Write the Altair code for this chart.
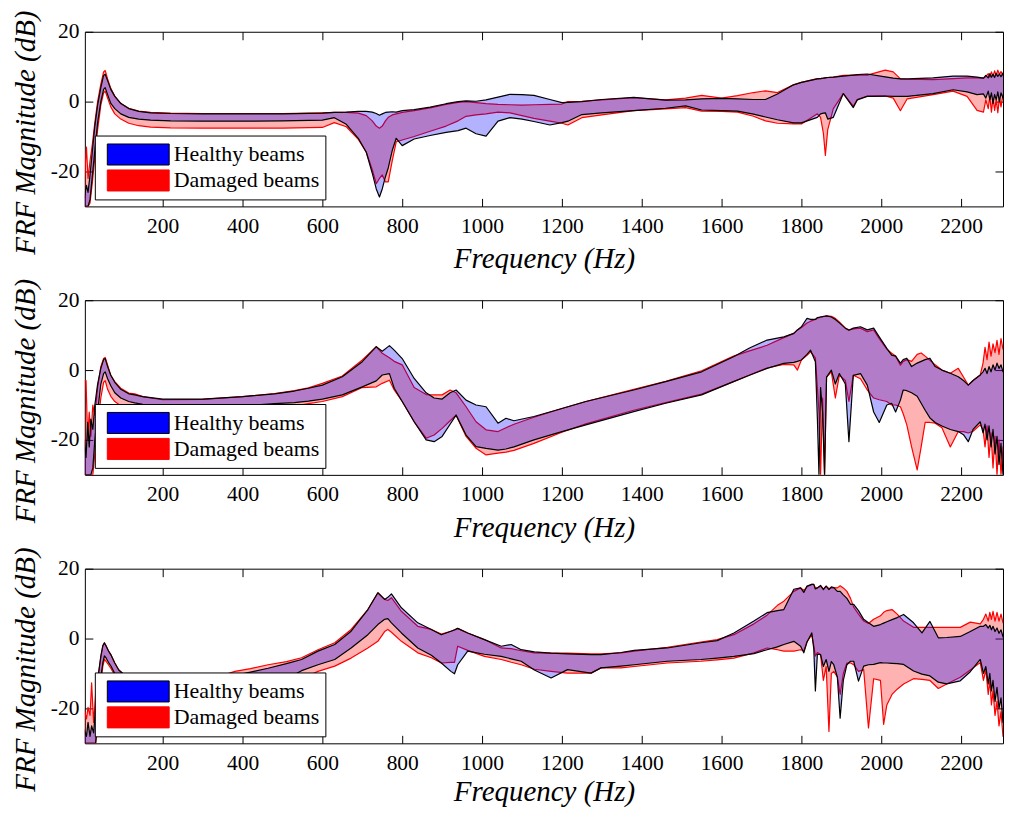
import altair as alt
import pandas as pd

FONT = "Liberation Serif"
GROUPS = ["Healthy beams", "Damaged beams"]
FILL_COLORS = ["#0000ff", "#ff0000"]
EDGE_COLORS = ["#000000", "#ff0000"]
X_TICKS = [200, 400, 600, 800, 1000, 1200, 1400, 1600, 1800, 2000, 2200]
Y_TICKS = [-20, 0, 20]
X_DOMAIN = [5, 2305]
Y_DOMAIN = [-30, 20]
X_TITLE = "Frequency (Hz)"
Y_TITLE = "FRF Magnitude (dB)"

# ---------------- panel 1 ----------------
F1 = [3, 9, 13, 18, 24, 30, 37, 45, 52, 56,
      62, 70, 80, 95, 115, 140, 170, 220, 300, 400,
      500, 600, 630, 660, 690, 710, 725, 735, 743, 750,
      758, 765, 775, 785, 800, 830, 870, 910, 940, 960,
      985, 1010, 1040, 1070, 1100, 1130, 1170, 1200, 1215, 1250,
      1300, 1380, 1460, 1510, 1550, 1600, 1640, 1680, 1710, 1740,
      1780, 1800, 1840, 1848, 1855, 1860, 1866, 1880, 1905, 1930,
      1940, 1965, 2010, 2030, 2048, 2065, 2130, 2180, 2215, 2240,
      2256, 2262, 2268, 2272, 2276, 2280, 2284, 2288, 2292, 2296,
      2300, 2305, 2310, 2315, 2320, 2325, 2330]
H1_UP = [-28, -24, -26, -21, -14, -7, -1, 4, 7.5, 7.8,
         6, 3.5, 1.5, -0.5, -2, -2.8, -3.2, -3.4, -3.5, -3.5,
         -3.5, -3.3, -3.1, -3.0, -2.8, -2.8, -3.0, -3.4, -3.9, -3.5,
         -3.1, -3.0, -2.9, -3.0, -2.6, -2.3, -1.6, -0.6, 0, 0.2,
         0.1, 0.5, 1.3, 2.1, 2.0, 1.8, 0.6, -0.3, -0.2, 0,
         0.6, 1.2, 0.4, 0.5, 0.8, 0.9, 0.8, 0.6, 0.6, 2.2,
         4.8, 5.5, 6.5, 6.6, 6.7, 6.8, 6.9, 7.0, 7.3, 7.6,
         7.7, 7.9, 7.1, 6.7, 6.5, 6.5, 6.8, 7.3, 7.3, 7.0,
         6.7, 7.5, 6.8, 8.0, 7.0, 7.8, 6.9, 8.1, 7.2, 7.9,
         7.1, 8.2, 7.4, 8.0, 7.3, 8.3, 7.6]
H1_LO = [-30, -30, -30, -28, -21, -14, -6, 0, 3.5, 4,
         2, -0.5, -2, -3.5, -4.5, -5, -5.3, -5.5, -5.6, -5.6,
         -5.5, -5.3, -4.6, -6.5, -10.5, -14.5, -20.5, -25, -27.3, -25,
         -21.5, -19, -14, -10.5, -12.6, -10.7, -9.7, -8.8, -8.3, -7.6,
         -9.2, -9.9, -5.6, -4.6, -5.0, -5.7, -6.7, -6.0, -5.6, -3.7,
         -3.2, -2.6, -1.9, -1.2, -2.4, -2.6, -2.7, -3.6, -4.4, -5.2,
         -6.1, -6.1, -4.5, -3.5, -3.3, -3.2, -5.0, -4.5, 2.3, -1.7,
         0.5, 1.5, 1.6, 1.5, 1.5, 1.5, 2.3, 3.4, 2.8, 2.0,
         2.2, 1.0, 3.0, 0.5, 2.5, -0.5, 2.0, 0.5, 2.8, 0.0,
         2.5, 1.0, 3.0, 0.0, 2.5, -0.5, 1.0]
D1_UP = [-24, -13, -22, -17, -12, -6, 0, 5, 8.5, 8.9,
         6.5, 3.8, 1.6, -0.6, -1.9, -2.7, -3.1, -3.3, -3.4, -3.4,
         -3.4, -3.2, -3.1, -3.1, -3.3, -4.0, -5.5, -7.0, -7.6, -7.0,
         -5.5, -4.5, -3.8, -3.5, -3.1, -2.6, -1.8, -0.8, -0.2, 0,
         -0.3, -0.6, -0.8, -0.9, -1.0, -0.9, -0.8, -0.7, 0, 0.1,
         0.5, 1.1, 0.5, 1.0, 1.8, 1.0, 1.7, 2.6, 3.1, 2.6,
         4.8, 5.5, 6.6, 6.6, 6.7, 6.8, 6.9, 7.0, 7.5, 7.6,
         7.6, 7.6, 9.0, 8.5, 6.5, 6.4, 6.3, 6.6, 6.8, 6.8,
         6.7, 7.2, 8.0, 7.0, 8.5, 7.3, 8.8, 7.5, 9.0, 7.8,
         8.6, 7.4, 9.2, 8.0, 9.3, 8.2, 9.0]
D1_LO = [-30, -30, -30, -29, -23, -16, -8, -1, 2.5, 3,
         1, -1.5, -3.5, -5, -6.2, -6.9, -7.3, -7.5, -7.6, -7.6,
         -7.6, -7.4, -6.0, -7.2, -10.8, -14.5, -19.5, -23.5, -22, -21,
         -23, -23, -17, -11.5, -11.0, -10.0, -8.5, -7.0, -5.5, -4.2,
         -3.8, -3.5, -3.0, -3.2, -4.0, -4.8, -5.6, -6.2, -6.7, -4.6,
         -3.8, -2.6, -2.1, -1.7, -2.7, -2.8, -3.0, -4.2, -5.5, -6.2,
         -6.4, -6.4, -3.5, -4.5, -9, -15.4, -8, -2, 2.3, -1.3,
         0.6, 1.6, 1.6, 1.0, -2.6, 0.8, 2.0, 3.0, 1.5, -2.5,
         -3.0, 0.5, -2.0, 1.5, -3.0, 1.0, -2.5, 0.5, -3.2, 1.0,
         -1.5, 2.0, -1.0, 1.5, -0.5, 1.0, 0.0]

# ---------------- panel 2 ----------------
F2 = [3, 8, 12, 16, 20, 25, 30, 37, 45, 52,
      56, 62, 70, 80, 95, 115, 130, 150, 200, 300,
      400, 480, 530, 565, 600, 650, 700, 735, 750, 768,
      780, 800, 830, 860, 880, 900, 920, 935, 960, 985,
      1010, 1040, 1060, 1080, 1130, 1200, 1260, 1380, 1460, 1550,
      1630, 1670, 1714, 1756, 1781, 1790, 1800, 1814, 1823, 1835,
      1840, 1844, 1848, 1853, 1858, 1863, 1875, 1885, 1895, 1910,
      1919, 1930, 1948, 1965, 1981, 1995, 2014, 2026, 2036, 2048,
      2055, 2064, 2076, 2090, 2100, 2110, 2122, 2135, 2152, 2173,
      2193, 2206, 2218, 2230, 2248, 2255, 2260, 2265, 2270, 2275,
      2280, 2285, 2290, 2295, 2300, 2305, 2310, 2315, 2320, 2325,
      2330]
H2_UP = [-20, -25, -15, -22, -14, -17, -10, -4, 0.5, 3,
         3.3, 1, -1.5, -3.5, -5.5, -6.8, -7.1, -7.6, -8.3, -8.3,
         -7.6, -6.8, -6.0, -5.2, -4.3, -1.9, 2.4, 6.7, 5.4, 7.0,
         5.7, 3.3, -2.4, -6.5, -8.0, -8.3, -6.5, -5.7, -8.6, -10.0,
         -10.5, -15.2, -13.8, -14.5, -13.3, -11.0, -9.0, -5.7, -3.3, -0.5,
         3.8, 6.3, 8.6, 9.5, 10.5, 11.5, 12.4, 14.8, 14.5, 14.5,
         15, 15.1, 15.2, 15.3, 15.4, 15.5, 15.2, 14.5, 13.5, 12.0,
         11.4, 12.0, 12.4, 11.5, 12.0, 9.5, 6.2, 4.3, 4.0, 2.0,
         3.0, 3.4, 1.0, 2.0, 2.5, 3.0, 3.4, 1.0, 0.0, -0.9,
         -1.9, -3.0, -4.3, -3.0, -1.4, -0.5, 0.5, -1.0, 1.0, -0.5,
         1.5, 0.0, 2.0, 0.5, 1.5, -0.5, 1.0, -1.0, 0.5, -1.5,
         -0.5]
H2_LO = [-30, -30, -30, -30, -30, -28, -20, -12, -4, -1,
         -0.5, -2.5, -4.5, -6.5, -8, -9, -9.4, -9.8, -10.4, -10.7,
         -10.3, -9.6, -9.3, -8.9, -8.3, -7.1, -4.8, -3.1, -1.4, -1.0,
         -5.2, -9.0, -14.8, -20.0, -20.5, -19.0, -15.5, -12.9, -18.6, -21.9,
         -22.4, -22.9, -22.6, -22.0, -20.0, -17.6, -15.7, -11.9, -9.5, -7.1,
         -3.3, -1.5, 0.5, 1.9, 2.2, 2.5, 2.9, 4.5, 5.7, 2.4,
         -13.8, -30, -5, -12, -30, -2, 0, -4, -1, -4,
         -20.5, -1.5, -1, -4.3, -12, -15, -10, -9.5, -12, -8.6,
         -5.7, -5.9, -6.5, -7.5, -9.5, -11.5, -13.7, -15.0, -16.0, -17.0,
         -17.6, -18.5, -20.5, -17.0, -14.8, -18, -15.5, -20, -16, -22,
         -17, -24, -19, -27, -21, -30, -23, -30, -25, -30,
         -26]
D2_UP = [-3, -3, -20, -12, -19, -10, -13, -5, 1, 3.3,
         3.6, 1.5, -1.5, -3.3, -5.2, -6.6, -6.8, -7.6, -8.5, -8.4,
         -7.6, -6.7, -5.9, -5.1, -3.8, -1.7, 2.9, 6.7, 4.8, 3.5,
         2.5, 1.5, -5.0, -7.0, -7.1, -7.1, -5.7, -6.5, -10.5, -14.8,
         -17.1, -17.6, -16.5, -15.5, -13.5, -11.0, -9.0, -5.5, -3.2, -0.2,
         4.0, 5.5, 7.1, 9.3, 10.5, 11.5, 12.2, 13.5, 14, 14.5,
         15, 15, 15.2, 15.3, 15.4, 15.5, 15.4, 14.8, 13.8, 12.0,
         11.5, 11.8, 12.0, 11.0, 11.5, 9.0, 6.0, 4.8, 4.0, 1.4,
         2.5, 3.0, 2.5, 4.5, 4.9, 4.0, 2.8, 1.5, 0.0, -0.9,
         0.5, -2.0, -4.3, -3.0, -1.4, 2.0, 6.5, 3.0, 8.0, 4.0,
         7.5, 5.0, 8.5, 4.5, 9.0, 6.0, 8.0, 5.5, 9.0, 7.0,
         9.5]
D2_LO = [-30, -30, -30, -30, -30, -30, -24, -16, -8, -3.5,
         -3, -5.5, -7.5, -9, -10.2, -11, -11.3, -11.6, -12, -12.2,
         -11.8, -11, -10.3, -9.6, -9.0, -7.6, -5.0, -4.8, -3.8, -2.9,
         -5.7, -9.0, -14.8, -19.5, -18.6, -16.7, -14.5, -12.9, -19.0, -22.4,
         -24.3, -23.8, -23.5, -23.0, -21.0, -17.8, -15.4, -11.5, -9.3, -6.9,
         -3.3, -1.4, 0.6, 1.6, 1.5, 0, 2.9, 4.2, 5.2, 3.5,
         -5, -12, -30, -8, -30, -2, -0.5, -8, -1.5, -3,
         -9, -1.5, -2.5, -5.7, -8, -8.5, -9, -10, -10, -10.5,
         -12.5, -15.7, -22, -28.6, -22, -15.0, -15.0, -15.2, -16.5, -22.0,
         -17.6, -17.6, -18.0, -17.5, -15.7, -17, -22, -16, -25, -18,
         -28, -19, -30, -20, -30, -22, -30, -21, -30, -24,
         -30]

# ---------------- panel 3 ----------------
F3 = [3, 9, 13, 18, 22, 27, 32, 38, 45, 50,
      54, 58, 64, 70, 80, 90, 110, 150, 200, 250,
      300, 350, 381, 420, 464, 510, 548, 589, 631, 672,
      714, 739, 756, 764, 773, 798, 839, 873, 898, 922,
      931, 939, 964, 1006, 1048, 1073, 1098, 1131, 1173, 1214,
      1273, 1298, 1348, 1381, 1464, 1548, 1589, 1631, 1681, 1714,
      1740, 1756, 1781, 1798, 1806, 1814, 1826, 1831, 1835, 1840,
      1848, 1855, 1862, 1869, 1875, 1881, 1890, 1897, 1905, 1914,
      1923, 1931, 1943, 1956, 1968, 1981, 1998, 2006, 2014, 2027,
      2040, 2056, 2081, 2102, 2122, 2143, 2164, 2198, 2223, 2248,
      2256, 2262, 2268, 2272, 2276, 2280, 2285, 2290, 2295, 2300,
      2305, 2310, 2315, 2320, 2325, 2330]
H3_UP = [-26, -28, -24, -28, -25, -27, -20, -11, -5, -2,
         -1.2, -2, -3.5, -4.6, -7, -9, -11, -13, -14, -14,
         -13, -11.5, -10.5, -9.6, -8.5, -7.2, -6.0, -3.6, -1.7, 2.1,
         8.3, 13.1, 11.2, 11.8, 12.8, 8.8, 4.5, 2.6, 1.1, 2.1,
         2.5, 2.9, 1.6, -0.3, -2.2, -1.7, -3.2, -3.8, -4.2, -4.4,
         -4.6, -4.6, -4.0, -3.4, -2.7, -1.2, -0.6, 1.6, 5.0, 7.4,
         8.0, 8.3, 14.1, 14.5, 13.2, 15.0, 15.5, 15.5, 14.2, 14.5,
         15.2, 14.0, 15.0, 14.0, 14.8, 14.6, 13.5, 13.5, 12.5, 11.5,
         9.8, 9.8, 8.0, 5.5, 4.5, 3.5, 4.0, 4.4, 4.8, 5.4,
         6.0, 6.9, 4.5, 1.6, 4.9, 0.2, 0.3, 0.6, 2.0, 3.5,
         3.5, 4.0, 3.0, 3.8, 2.5, 3.5, 2.0, 3.0, 1.5, 2.5,
         0.5, 1.5, -0.5, 0.5, -1.5, -2.0]
H3_LO = [-30, -30, -30, -30, -30, -30, -30, -22, -11, -7,
         -5, -5.5, -6.8, -7.8, -10, -12, -14, -17, -19, -19.5,
         -19, -18, -17, -16, -14, -11.5, -9.2, -7.5, -6.0, -2.7,
         1.1, 4.0, 5.5, 5.7, 4.5, 1.6, -2.7, -4.8, -7.0, -9.4,
         -10.1, -7.5, -3.6, -4.5, -5.1, -5.8, -6.5, -9.0, -11.3, -8.9,
         -9.9, -8.4, -7.9, -7.5, -6.5, -6.0, -5.6, -5.1, -4.3, -3.2,
         -2.4, -1.7, -0.8, -2.2, -4.1, -1.0, 1.6, -3, -15, -4.5,
         -4.6, -8, -6, -9.4, -6.6, -7.5, -11, -22.8, -12, -7.5,
         -6.5, -6.5, -12.2, -7.9, -7.5, -7.4, -6.9, -7.0, -7.0, -7.1,
         -7.2, -7.4, -9.3, -10.2, -10.7, -12.5, -13, -12.1, -9.5, -6.0,
         -10, -8, -13, -10, -15, -12, -18, -14, -20, -17,
         -24, -20, -28, -30, -30, -30]
D3_UP = [-20, -23, -19.7, -22, -12.7, -24, -16, -11, -5.5, -2.2,
         -1.3, -2.2, -3.5, -4.6, -7, -9, -11, -13, -14, -14,
         -12.5, -10.5, -9.4, -8.6, -7.5, -6.6, -5.5, -3.2, -1.2, 2.6,
         8.3, 13.1, 11.2, 10.9, 11.7, 7.8, 3.5, 2.6, 1.3, 2.1,
         2.4, 2.9, 1.6, -0.3, -2.7, -2.9, -3.5, -4.1, -4.2, -4.2,
         -4.4, -4.4, -4.1, -3.6, -2.5, -1.0, -0.3, 1.1, 4.2, 6.7,
         9.5, 10.7, 13.5, 14.5, 13.8, 14.8, 15.5, 15.5, 14.5, 14.5,
         15.0, 14.2, 15.0, 14.3, 14.5, 14.6, 14.5, 15.1, 14.5, 13.5,
         11.5, 9.0, 7.0, 5.0, 4.3, 5.5, 6.5, 7.5, 8.0, 8.3,
         7.0, 5.0, 3.2, 3.2, 3.2, 3.2, 3.2, 3.2, 4.7, 4.2,
         5.5, 7.0, 5.0, 7.5, 5.5, 7.8, 5.0, 7.5, 5.0, 7.0,
         4.5, 6.5, 4.0, 6.0, 3.5, 5.0]
D3_LO = [-30, -30, -30, -30, -30, -30, -30, -24, -13, -8,
         -6, -6.5, -7.5, -8.5, -10.5, -12.5, -15, -18, -20, -20,
         -19.5, -18.5, -17.5, -16.5, -15, -13, -11.5, -9.4, -7.9, -5.6,
         -2.7, -0.8, 2.0, 2.6, 1.8, -0.8, -4.1, -5.5, -7.0, -6.8,
         -6.8, -2.2, -3.4, -5.1, -6.0, -6.8, -7.5, -8.8, -9.4, -9.9,
         -9.9, -8.4, -8.4, -8.0, -7.0, -6.5, -6.1, -5.6, -4.1, -2.7,
         -3.2, -3.6, -3.6, -3.2, -3.5, -1.0, 1.1, -2, -5, -4.0,
         -4.6, -12, -8, -26.6, -10, -9.4, -11, -16, -10, -7.0,
         -7.0, -7.5, -9.4, -8.9, -25.6, -11.5, -12, -24.6, -19, -16,
         -14.5, -13, -11.5, -11.7, -12, -14.3, -13, -11.1, -9.0, -6.9,
         -12, -9, -16, -12, -19, -15, -22, -18, -25, -21,
         -28, -24, -30, -27, -30, -30]


def band(freq, up, lo, group):
    return pd.DataFrame({"freq": freq, "up": up, "lo": lo, "group": group})


def panel(freq, h_up, h_lo, d_up, d_lo, label_pad=9, title_pad=8):
    x_scale = alt.Scale(domain=X_DOMAIN, nice=False, zero=False)
    y_scale = alt.Scale(domain=Y_DOMAIN, nice=False, zero=False)
    legend = alt.Legend(
        title=None, orient="none", legendX=10, legendY=104, direction="vertical",
        fillColor="white", strokeColor="black", padding=6, cornerRadius=0,
        symbolType="M-1,-0.34H1V0.34H-1Z", symbolSize=3844, symbolStrokeWidth=1,
        symbolOpacity=1, symbolOffset=6, labelOffset=4, clipHeight=26, rowPadding=0,
        labelFont=FONT, labelFontSize=22, labelColor="black", labelLimit=400,
    )
    fill = alt.Fill("group:N", scale=alt.Scale(domain=GROUPS, range=FILL_COLORS), legend=legend)
    stroke = alt.Stroke("group:N", scale=alt.Scale(domain=GROUPS, range=EDGE_COLORS), legend=legend)
    mark = dict(clip=True, strokeWidth=1.2, strokeJoin="round", interpolate="linear")

    damaged = alt.Chart(band(freq, d_up, d_lo, GROUPS[1])).mark_area(**mark).encode(
        x=alt.X("freq:Q", scale=x_scale,
                axis=alt.Axis(orient="bottom", values=X_TICKS, title=X_TITLE, format="d",
                              offset=-8, tickSize=8, labelPadding=label_pad,
                              titlePadding=title_pad,
                              labelFlush=False, labelOverlap=False)),
        y=alt.Y("up:Q", scale=y_scale,
                axis=alt.Axis(orient="left", values=Y_TICKS, title=Y_TITLE,
                              labelExpr="'' + datum.value",
                              offset=-8, tickSize=8, labelPadding=6, titlePadding=10,
                              titleY=100.6, labelFlush=False, labelOverlap=False)),
        y2="lo:Q",
        fill=fill, stroke=stroke, fillOpacity=alt.value(0.3),
    )
    healthy = alt.Chart(band(freq, h_up, h_lo, GROUPS[0])).mark_area(**mark).encode(
        x=alt.X("freq:Q", scale=x_scale,
                axis=alt.Axis(orient="top", values=X_TICKS, labels=False, title=None,
                              offset=-8, tickSize=8)),
        y=alt.Y("up:Q", scale=y_scale,
                axis=alt.Axis(orient="right", values=Y_TICKS, labels=False, title=None,
                              offset=-8, tickSize=8)),
        y2="lo:Q",
        fill=fill, stroke=stroke, fillOpacity=alt.value(0.3),
    )
    return alt.layer(damaged, healthy).properties(width=920, height=175)


chart = alt.vconcat(
    panel(F1, H1_UP, H1_LO, D1_UP, D1_LO),
    panel(F2, H2_UP, H2_LO, D2_UP, D2_LO),
    panel(F3, H3_UP, H3_LO, D3_UP, D3_LO, label_pad=9, title_pad=4),
    spacing=94, bounds="flush",
).resolve_scale(
    fill="independent", stroke="independent"
).resolve_legend(
    fill="independent", stroke="independent"
).properties(
    padding={"left": 2, "top": 0, "right": 0, "bottom": 0}
).configure(
    font=FONT
).configure_view(
    stroke="black", strokeWidth=1
).configure_axis(
    grid=False, domain=False, tickColor="black", tickWidth=1,
    labelColor="black", titleColor="black",
    labelFont=FONT, titleFont=FONT, labelFontSize=21.5, titleFontSize=29,
    titleFontStyle="italic", titleFontWeight="normal",
)

chart.save("out.html", embed_options={"renderer": "svg", "actions": False})
